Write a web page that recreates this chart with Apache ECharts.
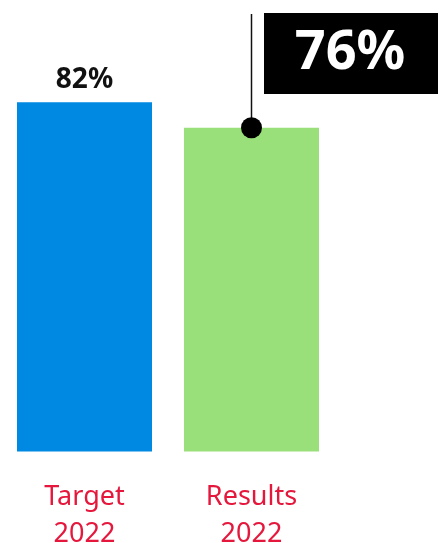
<!DOCTYPE html>
<html>
<head>
<meta charset="utf-8">
<script src="https://cdn.jsdelivr.net/npm/echarts@6/dist/echarts.min.js"></script>
<style>
html,body{margin:0;padding:0;background:#fff;overflow:hidden;}
#chart{width:444px;height:543px;}
</style>
</head>
<body>
<div id="chart"></div>
<script>
var categories = ['Target\n2022', 'Results\n2022'];
var values = [82, 76];
var barColors = ['#0089e3', '#99e07a'];
var highlightIndex = 1;

var chart = echarts.init(document.getElementById('chart'), null, {renderer: 'canvas', width: 444, height: 543});
var FONT = '"Noto Sans"';

var option = {
  animation: false,
  grid: {left: 1, width: 334, top: 25.5, height: 426, containLabel: false, outerBoundsMode: 'none'},
  xAxis: {
    type: 'category',
    data: categories,
    axisLine: {show: false},
    axisTick: {show: false},
    axisLabel: {
      color: '#e5173c', fontFamily: FONT, fontSize: 27, lineHeight: 37, margin: 27,
      interval: 0
    }
  },
  yAxis: {
    type: 'value', min: 0, max: 100,
    show: false, splitLine: {show: false}
  },
  series: [{
    type: 'bar',
    barWidth: 135,
    data: values.map(function (v, i) {
      return {
        value: v,
        itemStyle: {color: barColors[i]},
        label: {show: i !== highlightIndex}
      };
    }),
    label: {
      position: 'top', distance: 8,
      formatter: '{c}%',
      color: '#111', fontFamily: FONT, fontWeight: 'bold', fontSize: 28
    }
  }]
};
chart.setOption(option);

function addCallout() {
  var top = chart.convertToPixel({seriesIndex: 0}, [highlightIndex, values[highlightIndex]]);
  var x = top[0], y = top[1];
  chart.setOption({
    graphic: [
      {type: 'line', shape: {x1: x, y1: 14, x2: x, y2: y}, style: {stroke: '#111', lineWidth: 1.5}, z: 10},
      {type: 'circle', shape: {cx: x, cy: y, r: 10.5}, style: {fill: '#000'}, z: 11},
      {type: 'rect', shape: {x: 264, y: 13, width: 174, height: 81}, style: {fill: '#000'}, z: 10},
      {type: 'text', x: 350, y: 54, z: 11,
        style: {text: values[highlightIndex] + '%', fill: '#fff', fontFamily: FONT, fontWeight: 'bold',
          fontSize: 54, align: 'center', verticalAlign: 'middle'}}
    ]
  });
}
addCallout();
</script>
</body>
</html>
